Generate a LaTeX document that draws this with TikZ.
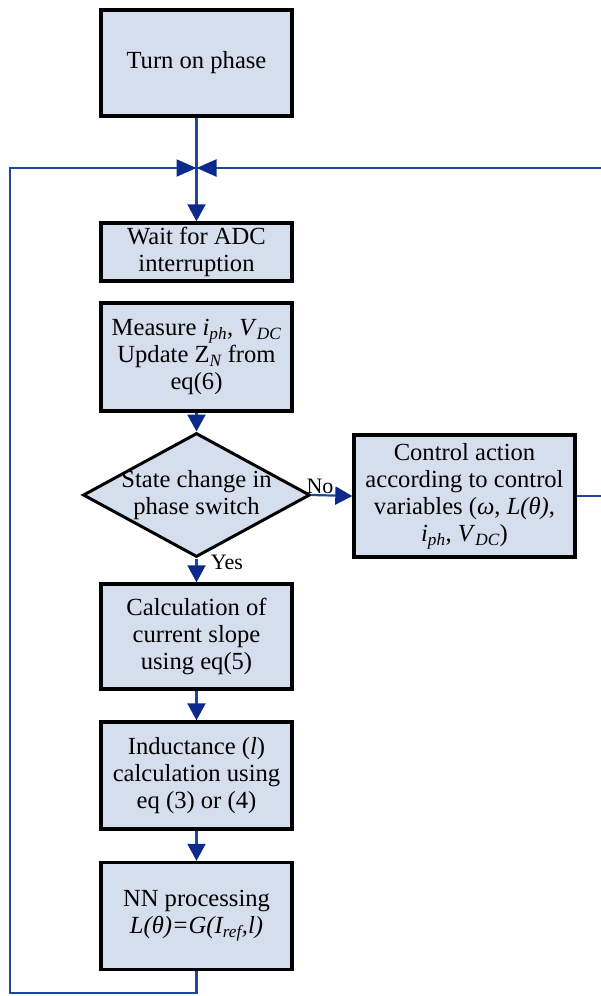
\documentclass[tikz,border=0pt]{standalone}
\usepackage{fontspec}
\setmainfont{Liberation Serif}
\usetikzlibrary{shapes.geometric,arrows.meta}
\definecolor{boxfill}{RGB}{213,222,236}
\definecolor{linkblue}{RGB}{30,72,160}
\definecolor{tipblue}{RGB}{12,42,140}
\newcommand\sbs[1]{\textsubscript{\itshape #1}}
\begin{document}
\begin{tikzpicture}[x=1pt,y=-1pt,
  font=\fontsize{24.6}{27}\selectfont,
  proc/.style={draw=black, line width=3.4pt, fill=boxfill, align=center,
    minimum width=191pt, inner sep=0pt},
  link/.style={draw=linkblue, line width=2.2pt},
  tip/.style={-{Triangle[length=17pt,width=18pt,color=tipblue]}},
  jtip/.style={-{Triangle[length=20pt,width=17pt,color=tipblue]}},
  small/.style={font=\fontsize{22}{24}\selectfont, inner sep=0pt}]
\useasboundingbox (0,0) rectangle (600,996);

\node[proc, minimum height=106pt] (turn) at (196.5,63) {Turn on phase};
\node[proc, minimum height=58pt] (wait) at (196.5,252) {Wait for ADC\\interruption};
\node[proc, minimum height=108pt] (meas) at (196.5,357)
  {Measure \textit{i}\sbs{ph}, \textit{V}\sbs{DC}\\Update Z\sbs{N} from\\eq(6)};
\node[diamond, draw=black, line width=3pt, fill=boxfill, minimum width=227pt,
  minimum height=124pt, inner sep=0pt,
  label={[align=center]center:State change in\\phase switch}] (dec) at (196.5,495) {};
\node[proc, minimum width=221pt, minimum height=122pt] (ctrl) at (464.5,496)
  {Control action\\according to control\\variables (\textit{ω}, \textit{L(θ)},\\\textit{i}\sbs{ph}, \textit{V}\sbs{DC})};
\node[proc, minimum height=105pt] (calc) at (196.5,636.5)
  {Calculation of\\current slope\\using eq(5)};
\node[proc, minimum height=107pt] (ind) at (196.5,775.5)
  {Inductance (\textit{l})\\calculation using\\eq (3) or (4)};
\node[proc, minimum height=107pt] (nn) at (196.5,916)
  {NN processing\\\textit{L(θ)=G(I\textsubscript{ref},l)}};

\node[small] (no) at (320,486) {No};
\node[small] (yes) at (227,562) {Yes};

\coordinate (J) at (196.5,168);
\coordinate (bl) at (196.5,993);
\coordinate (bll) at (10,993);
\coordinate (tl) at (10,168);
\coordinate (rr) at (607,496);
\coordinate (tr) at (607,168);

\draw[link] (turn.south) -- (J);
\draw[link, tip] (J) -- (wait.north);
\draw[link, tip] (meas.south) -- (dec.north);
\draw[link, tip] (dec.east) -- (ctrl.west);
\draw[link, tip] (dec.south) -- (calc.north);
\draw[link, tip] (calc.south) -- (ind.north);
\draw[link, tip] (ind.south) -- (nn.north);
\draw[link, jtip] (nn.south) -- (bl) -- (bll) -- (tl) -- (J);
\draw[link, jtip] (ctrl.east) -- (rr) -- (tr) -- (J);
\end{tikzpicture}
\end{document}
